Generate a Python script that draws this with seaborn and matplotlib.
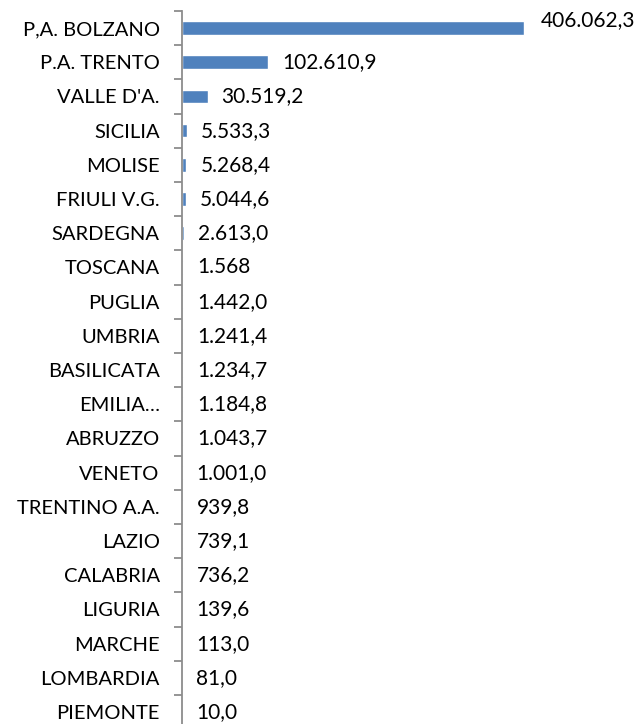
import pandas as pd
import matplotlib.pyplot as plt
import seaborn as sns
from matplotlib.ticker import FixedLocator

# Dati (valori per regione)
regioni = ['P,A. BOLZANO', 'P.A. TRENTO', "VALLE D'A.", 'SICILIA', 'MOLISE',
           'FRIULI V.G.', 'SARDEGNA', 'TOSCANA', 'PUGLIA', 'UMBRIA',
           'BASILICATA', 'EMILIA…', 'ABRUZZO', 'VENETO', 'TRENTINO A.A.',
           'LAZIO', 'CALABRIA', 'LIGURIA', 'MARCHE', 'LOMBARDIA', 'PIEMONTE']
valori = [406062.3, 102610.9, 30519.2, 5533.3, 5268.4,
          5044.6, 2613.0, 1568.0, 1442.0, 1241.4,
          1234.7, 1184.8, 1043.7, 1001.0, 939.8,
          739.1, 736.2, 139.6, 113.0, 81.0, 10.0]
etichette = ['406.062,3', '102.610,9', '30.519,2', '5.533,3', '5.268,4',
             '5.044,6', '2.613,0', '1.568', '1.442,0', '1.241,4',
             '1.234,7', '1.184,8', '1.043,7', '1.001,0', '939,8',
             '739,1', '736,2', '139,6', '113,0', '81,0', '10,0']

df = pd.DataFrame({'regione': regioni, 'valore': valori})

sns.set_style('white')
plt.rcParams['font.family'] = ['Lato', 'DejaVu Sans']

W, H = 638, 724
fig = plt.figure(figsize=(W / 100, H / 100), dpi=100)

# posizione asse: 0 a x=182px, massimo a x=524px; righe ogni 34.2px da y=28
x0, x_max_px = 182, 524
passo = 34.2
top_px = 28 - passo / 2
bot_px = 28 + passo * (len(regioni) - 1) + passo / 2
ax = fig.add_axes([x0 / W, 1 - bot_px / H, (W - x0) / W, (bot_px - top_px) / H])

sns.barplot(data=df, y='regione', x='valore', orient='h', color='#4F81BD',
            saturation=1, width=0.4, ax=ax)

ax.set_xlim(0, max(valori) * (W - x0) / (x_max_px - x0))
ax.set_ylim(len(regioni) - 0.5, -0.5)
ax.set_xlabel('')
ax.set_ylabel('')
ax.set_xticks([])

for s in ['top', 'right', 'bottom']:
    ax.spines[s].set_visible(False)
ax.spines['left'].set_color('#8C8C8C')
ax.spines['left'].set_linewidth(1.3)

ax.tick_params(axis='y', which='major', length=0, pad=16, labelsize=14.5, labelcolor='black')
ax.yaxis.set_minor_locator(FixedLocator([i - 0.5 for i in range(len(regioni) + 1)]))
ax.tick_params(axis='y', which='minor', left=True, length=5.5, width=1.3,
               color='#8C8C8C', direction='out')

for i, (v, t) in enumerate(zip(valori, etichette)):
    dx, dy = 10, 0
    if i == 0:
        dx, dy = 12, 6
    ax.annotate(t, xy=(v, i), xytext=(dx, dy), textcoords='offset points',
                ha='left', va='center', fontsize=15, color='black',
                annotation_clip=False)

fig.savefig('out.png', dpi=100)
